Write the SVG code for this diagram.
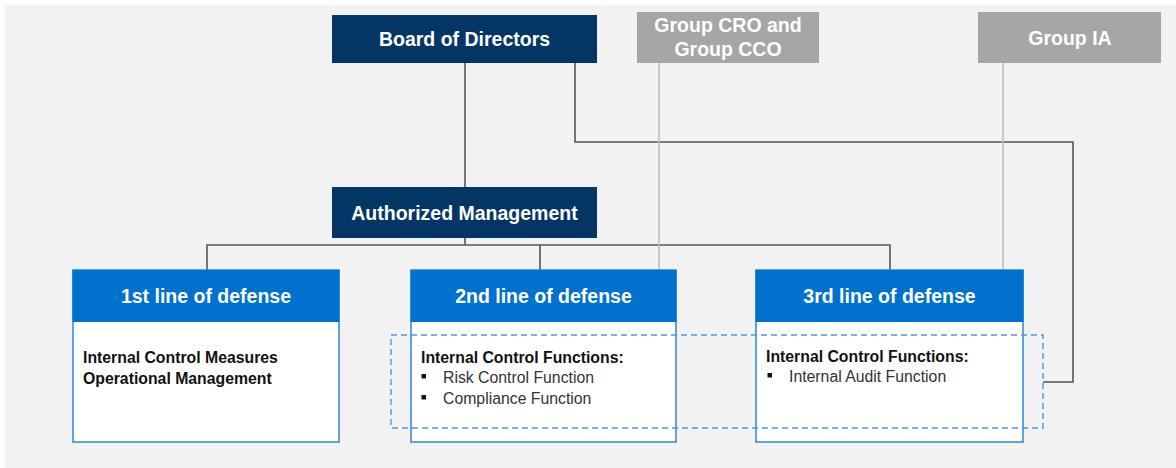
<svg xmlns="http://www.w3.org/2000/svg" width="1176" height="468" viewBox="0 0 1176 468">
<style>
.t{font-family:"Liberation Sans",Arial,sans-serif;font-weight:bold;fill:#fff;font-size:19.5px;text-anchor:middle}
.b{font-family:"Liberation Sans",Arial,sans-serif;font-weight:bold;fill:#111;font-size:15.8px}
.r{font-family:"Liberation Sans",Arial,sans-serif;fill:#333;font-size:15.8px}
.navy{fill:#033664}
.grey{fill:#a6a6a6}
.hdr{fill:#0071cd}
.body{fill:#fff;stroke:#2e86d9;stroke-width:1.5}
.dk{fill:none;stroke:#555;stroke-width:1.6}
.lt{fill:none;stroke:#bdbdbd;stroke-width:1.6}
.bul{fill:#111}
</style>
<rect x="0" y="0" width="1176" height="468" fill="#fff"/>
<rect x="5" y="5" width="1171" height="463" fill="#f2f2f2"/>
<g id="connectors">
<path class="dk" d="M465,63 V188"/>
<path class="dk" d="M465,238 V245 M207,270 V245 H890 V270 M540,245 V270"/>
<path class="dk" d="M575,63 V142 H1073 V382 H1043"/>
<path class="lt" d="M659,63 V270"/>
<path class="lt" d="M1003,63 V271"/>
</g>
<g id="board">
<rect class="navy" x="332" y="15" width="265" height="48"/>
<text class="t" x="464.5" y="46">Board of Directors</text>
</g>
<g id="group-cro-cco">
<rect class="grey" x="637" y="12" width="182" height="51"/>
<text class="t" x="728" y="32">Group CRO and</text>
<text class="t" x="728" y="56">Group CCO</text>
</g>
<g id="group-ia">
<rect class="grey" x="978" y="12" width="183" height="51"/>
<text class="t" x="1070" y="45">Group IA</text>
</g>
<g id="authorized-management">
<rect class="navy" x="332" y="187" width="265" height="51"/>
<text class="t" x="464.5" y="219.5">Authorized Management</text>
</g>
<g id="line1">
<rect class="body" x="73" y="270" width="266" height="172"/>
<rect class="hdr" x="72.5" y="270" width="267" height="52"/>
<text class="t" x="206" y="303">1st line of defense</text>
<text class="b" x="83" y="363">Internal Control Measures</text>
<text class="b" x="83" y="384">Operational Management</text>
</g>
<g id="line2">
<rect class="body" x="411" y="270" width="265" height="172"/>
<rect class="hdr" x="410.5" y="270" width="266" height="52"/>
<text class="t" x="543.5" y="303">2nd line of defense</text>
<text class="b" x="421" y="363">Internal Control Functions:</text>
<rect class="bul" x="421.5" y="374" width="4.5" height="4.5"/>
<text class="r" x="443" y="383">Risk Control Function</text>
<rect class="bul" x="421.5" y="395" width="4.5" height="4.5"/>
<text class="r" x="443" y="404">Compliance Function</text>
</g>
<g id="line3">
<rect class="body" x="756" y="270" width="267" height="172"/>
<rect class="hdr" x="755.5" y="270" width="268" height="52"/>
<text class="t" x="889.5" y="303">3rd line of defense</text>
<text class="b" x="766" y="362">Internal Control Functions:</text>
<rect class="bul" x="767.5" y="373" width="4.5" height="4.5"/>
<text class="r" x="789" y="382">Internal Audit Function</text>
</g>
<g id="internal-control-functions-frame">
<rect x="391" y="335" width="652" height="93" fill="none" stroke="#4b98e0" stroke-width="1.4" stroke-dasharray="6 4"/>
</g>
</svg>
